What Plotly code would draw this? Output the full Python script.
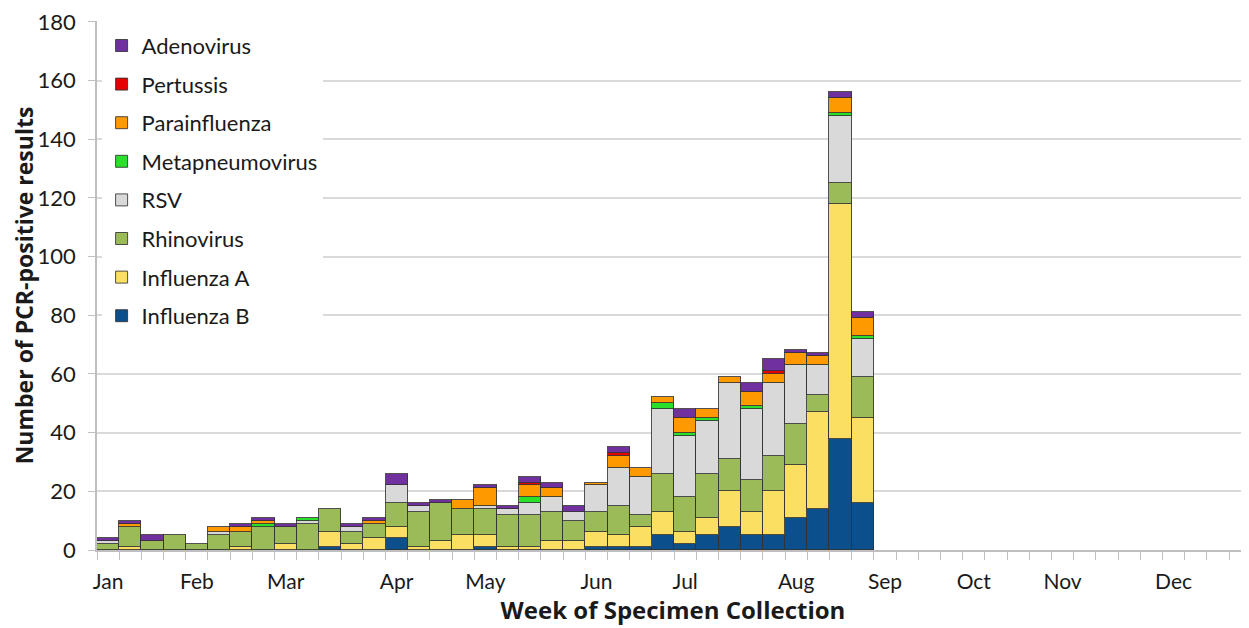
import plotly.graph_objects as go

weeks = list(range(35))

influenza_b = [0,0,0,0,0,0,0,0,0,0,1,0,0,4,0,0,0,1,0,0,0,0,1,1,1,5,2,5,8,5,5,11,14,38,16]
influenza_a = [0,1,0,0,0,0,1,0,2,0,5,2,4,4,1,3,5,4,1,1,3,3,5,4,7,8,4,6,12,8,15,18,33,80,29]
rhinovirus  = [2,7,3,5,2,5,5,8,6,9,8,4,5,8,12,13,9,9,11,11,10,7,7,10,4,13,12,15,11,11,12,14,6,7,14]
rsv         = [1,0,0,0,0,1,0,0,0,1,0,2,0,6,2,0,0,1,2,4,5,3,9,13,13,22,21,18,26,24,25,20,10,23,13]
metapneumo  = [0,0,0,0,0,0,0,1,0,1,0,0,0,0,0,0,0,0,0,2,0,0,0,0,0,2,1,1,0,1,0,0,0,1,1]
parainflu   = [0,1,0,0,0,2,2,1,0,0,0,0,1,0,0,0,3,6,0,4,3,0,1,4,3,2,5,3,2,5,3,4,3,5,6]
pertussis   = [0,0,0,0,0,0,0,0,0,0,0,0,0,0,0,0,0,0,0,1,0,0,0,1,0,0,0,0,0,0,1,0,0,0,0]
adenovirus  = [1,1,2,0,0,0,1,1,1,0,0,1,1,4,1,1,0,1,1,2,2,2,0,2,0,0,3,0,0,3,4,1,1,2,2]

month_labels = ["Jan","Feb","Mar","Apr","May","Jun","Jul","Aug","Sep","Oct","Nov","Dec"]
month_weeks  = [0,4,8,13,17,22,26,31,35,39,43,48]

series = [
    ("Influenza B", influenza_b, "#0B4F8C"),
    ("Influenza A", influenza_a, "#FADF63"),
    ("Rhinovirus", rhinovirus, "#9BBB59"),
    ("RSV", rsv, "#D9D9D9"),
    ("Metapneumovirus", metapneumo, "#2BE02B"),
    ("Parainfluenza", parainflu, "#FF9900"),
    ("Pertussis", pertussis, "#E50000"),
    ("Adenovirus", adenovirus, "#7030A0"),
]

FONT = "Lato"
TITLE_FONT = "Open Sans"

fig = go.Figure()
n = len(series)
for i, (name, vals, color) in enumerate(series):
    fig.add_trace(go.Bar(
        x=weeks,
        y=[v if v else None for v in vals],
        name=name,
        legendgroup=name,
        legendrank=n - i,
        marker=dict(color=color, line=dict(color="rgba(50,50,50,0.85)", width=1)),
    ))

fig.update_layout(
    width=1241, height=620,
    margin=dict(l=89, r=0, t=13, b=78),
    barmode="stack", bargap=0,
    plot_bgcolor="white", paper_bgcolor="white",
    font=dict(family=FONT, size=21, color="#1a1a1a"),
    legend=dict(
        x=0.004, y=0.993, xanchor="left", yanchor="top",
        bgcolor="white", traceorder="grouped",
        tracegroupgap=7, font=dict(family=FONT, size=22),
        itemwidth=30,
    ),
    xaxis=dict(
        range=[-0.5, 51.4],
        tickmode="array", tickvals=month_weeks, ticktext=month_labels,
        ticks="", showgrid=False, zeroline=False,
        showline=True, linecolor="#bfbfbf", linewidth=1.5,
        ticklabelstandoff=12,
        tickfont=dict(family=FONT, size=21),
        minor=dict(ticks="outside", tick0=-0.5, dtick=1, ticklen=8,
                   tickcolor="#bfbfbf", tickwidth=1, showgrid=False),
        title=dict(text="<b>Week of Specimen Collection</b>",
                   font=dict(family=TITLE_FONT, size=24), standoff=5),
    ),
    yaxis=dict(
        range=[0, 180.3], tickmode="linear", tick0=0, dtick=20,
        showgrid=True, gridcolor="#d9d9d9", gridwidth=1.5,
        zeroline=False,
        showline=True, linecolor="#bfbfbf", linewidth=1.5,
        ticks="outside", ticklen=7, tickcolor="#bfbfbf",
        ticklabelstandoff=8, ticklabeloverflow="allow",
        tickfont=dict(family=FONT, size=22),
        title=dict(text="<b>Number of PCR-positive results</b>",
                   font=dict(family=TITLE_FONT, size=23), standoff=10),
    ),
)

fig.write_html("out.html")
